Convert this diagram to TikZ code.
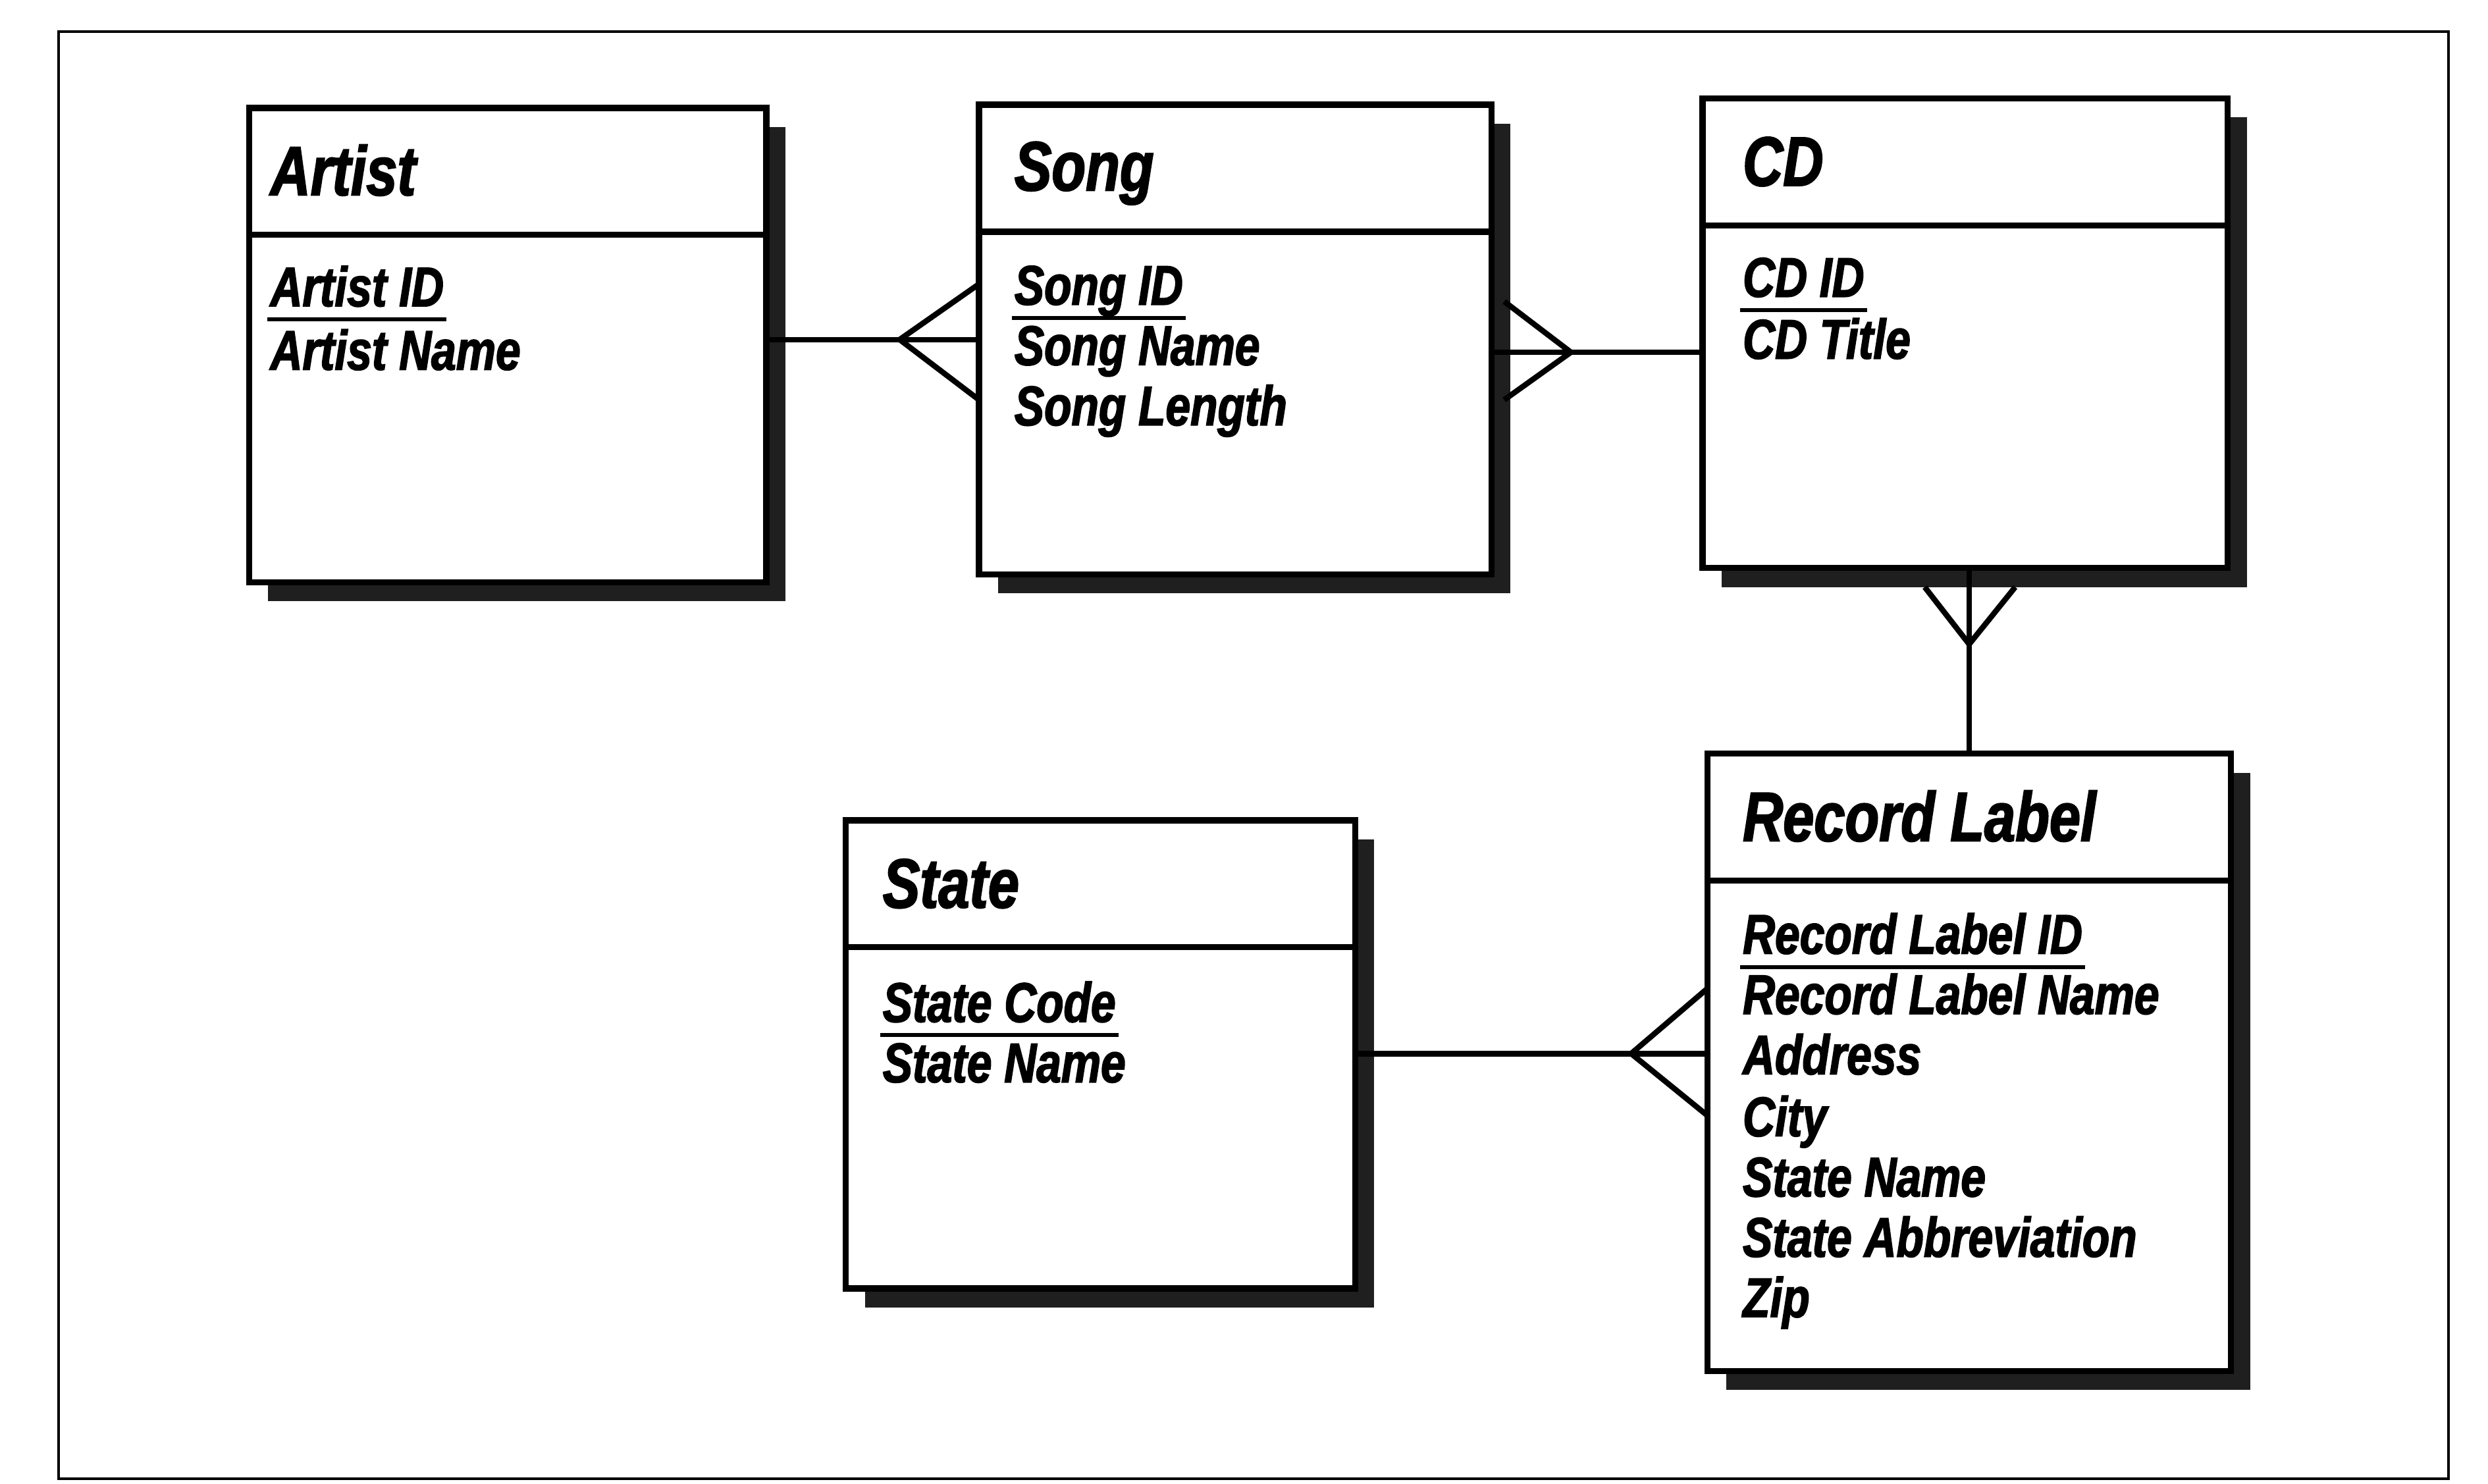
\documentclass[tikz,border=0pt]{standalone}
\usepackage{fontspec}
\newfontfamily\erfont[FakeStretch=0.8,FakeBold=2]{Liberation Sans}
\usetikzlibrary{fit,shadows,calc}
\newcommand{\pkey}[1]{\setbox0\hbox{#1}\rlap{\kern-1pt\rule[-5.5pt]{\dimexpr\wd0+2pt\relax}{1.4pt}}\box0}
\tikzset{
  ent/.style={draw, line width=2.2pt, fill=white, inner sep=0pt,
    drop shadow={shadow xshift=0.24cm, shadow yshift=-0.24cm, fill=black!88, opacity=1}},
  etitle/.style={anchor=base west, inner sep=0pt, font=\erfont\bfseries\itshape\fontsize{25}{25}\selectfont},
  eattr/.style={anchor=base west, inner sep=0pt, font=\erfont\bfseries\itshape\fontsize{20}{20}\selectfont},
  conn/.style={line width=2pt},
  outerframe/.style={line width=0.9pt}
}
\begin{document}
\begin{tikzpicture}[x=0.02cm,y=-0.02cm]
\useasboundingbox (0,0) rectangle (1568,935);
\draw[outerframe] (37,20) rectangle (1543,932);

% Artist
\node[ent, fit={(157,68) (483,148)}] (artistH) {};
\node[ent, fit={(157,148) (483,367)}] (artist) {};
\node[etitle] (artistT) at (170,123) {Artist};
\node[eattr] (artistA1) at (170,193) {\pkey{Artist ID}};
\node[eattr] (artistA2) at (170,233) {Artist Name};

% Song
\node[ent, fit={(617,66) (940,146)}] (songH) {};
\node[ent, fit={(617,146) (940,362)}] (song) {};
\node[etitle] (songT) at (639,120) {Song};
\node[eattr] (songA1) at (639,192) {\pkey{Song ID}};
\node[eattr] (songA2) at (639,230) {Song Name};
\node[eattr] (songA3) at (639,268) {Song Length};

% CD
\node[ent, fit={(1073,62) (1404,142)}] (cdH) {};
\node[ent, fit={(1073,142) (1404,358)}] (cd) {};
\node[etitle] (cdT) at (1098,117) {CD};
\node[eattr] (cdA1) at (1098,187) {\pkey{CD ID}};
\node[eattr] (cdA2) at (1098,226) {CD Title};

% State
\node[ent, fit={(533,517) (854,597)}] (stateH) {};
\node[ent, fit={(533,597) (854,812)}] (state) {};
\node[etitle] (stateT) at (556,572) {State};
\node[eattr] (stateA1) at (556,644) {\pkey{State Code}};
\node[eattr] (stateA2) at (556,682) {State Name};

% Record Label
\node[ent, fit={(1076,475) (1406,555)}] (rlH) {};
\node[ent, fit={(1076,555) (1406,864)}] (rl) {};
\node[etitle] (rlT) at (1098,530) {Record Label};
\node[eattr] (rlA1) at (1098,601) {\pkey{Record Label ID}};
\node[eattr] (rlA2) at (1098,639) {Record Label Name};
\node[eattr] (rlA3) at (1098,677) {Address};
\node[eattr] (rlA4) at (1098,716) {City};
\node[eattr] (rlA5) at (1098,754) {State Name};
\node[eattr] (rlA6) at (1098,792) {State Abbreviation};
\node[eattr] (rlA7) at (1098,830) {Zip};

% Artist -- Song (many at Song)
\coordinate (cf1) at (567,214);
\coordinate (cf1a) at (617,179);
\coordinate (cf1b) at (617,252);
\draw[conn] (artist.east |- cf1) -- (song.west |- cf1);
\draw[conn] (cf1a) -- (cf1) -- (cf1b);

% Song -- CD (many at Song)
\coordinate (cf2) at (990,222);
\coordinate (cf2a) at (948,190);
\coordinate (cf2b) at (948,252);
\draw[conn] (song.east |- cf2) -- (cd.west |- cf2);
\draw[conn] (cf2a) -- (cf2) -- (cf2b);

% CD -- Record Label (many at CD)
\coordinate (cf3) at (1241,406);
\coordinate (cf3a) at (1213,370);
\coordinate (cf3b) at (1270,370);
\draw[conn] (cf3 |- cd.south) -- (cf3 |- rlH.north);
\draw[conn] (cf3a) -- (cf3) -- (cf3b);

% State -- Record Label (many at Record Label)
\coordinate (cf4) at (1028,664);
\coordinate (cf4a) at (1076,623);
\coordinate (cf4b) at (1076,703);
\draw[conn] (state.east |- cf4) -- (rl.west |- cf4);
\draw[conn] (cf4a) -- (cf4) -- (cf4b);
\end{tikzpicture}
\end{document}
